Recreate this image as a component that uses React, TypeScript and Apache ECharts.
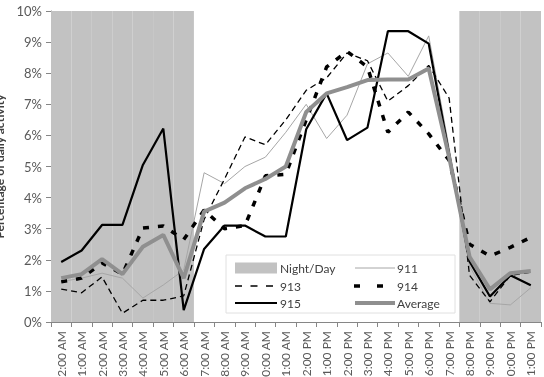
import React, { useEffect, useRef } from "react";
import * as echarts from "echarts";

const categories = [
  "12:00 AM", "1:00 AM", "2:00 AM", "3:00 AM", "4:00 AM", "5:00 AM", "6:00 AM", "7:00 AM",
  "8:00 AM", "9:00 AM", "10:00 AM", "11:00 AM", "12:00 PM", "1:00 PM", "2:00 PM", "3:00 PM",
  "4:00 PM", "5:00 PM", "6:00 PM", "7:00 PM", "8:00 PM", "9:00 PM", "10:00 PM", "11:00 PM",
];

const nightDay = [10, 10, 10, 10, 10, 10, 10, null, null, null, null, null, null, null, null, null, null, null, null, null, 10, 10, 10, 10];
const s911 = [1.3, 1.41, 1.57, 1.41, 0.77, 1.19, 1.67, 4.8, 4.45, 5.0, 5.3, 6.1, 7.0, 5.9, 6.65, 8.3, 8.65, 7.9, 9.2, 5.6, 1.8, 0.6, 0.55, 1.1];
const s913 = [1.06, 0.94, 1.45, 0.28, 0.7, 0.7, 0.84, 3.3, 4.6, 5.95, 5.7, 6.5, 7.45, 7.85, 8.65, 8.4, 7.1, 7.6, 8.25, 7.2, 1.5, 0.65, 1.5, 1.6];
const s914 = [1.29, 1.41, 1.9, 1.54, 3.02, 3.09, 2.65, 3.6, 3.0, 3.1, 4.7, 4.75, 6.5, 8.2, 8.7, 8.2, 6.1, 6.75, 6.05, 5.2, 2.5, 2.12, 2.4, 2.72];
const s915 = [1.93, 2.3, 3.12, 3.12, 5.05, 6.22, 0.38, 2.35, 3.1, 3.1, 2.75, 2.75, 6.2, 7.35, 5.85, 6.25, 9.35, 9.35, 8.95, 5.4, 1.95, 0.82, 1.5, 1.18];
const sAvg = [1.41, 1.54, 2.02, 1.54, 2.42, 2.8, 1.41, 3.55, 3.84, 4.3, 4.6, 5.0, 6.75, 7.35, 7.55, 7.78, 7.8, 7.8, 8.15, 5.3, 2.1, 1.05, 1.57, 1.64];

const FONT = "Lato";
const GRAY_FILL = "#c2c2c2";
const C911 = "#a6a6a6";
const CAVG = "#8f8f8f";

export default function App() {
  const ref = useRef<HTMLDivElement>(null);
  useEffect(() => {
    if (!ref.current) return;
    const chart = echarts.init(ref.current, undefined, { renderer: "svg" });
    const legendText = (x: number, y: number, t: string) => ({
      type: "text", z: 101, x, y,
      style: { text: t, fontSize: 12, fontFamily: FONT, fill: "#404040", verticalAlign: "middle", align: "left" },
    });
    const legendLine = (x1: number, x2: number, y: number, stroke: string, w: number, dash?: number[]) => ({
      type: "line", z: 101,
      shape: { x1, y1: y, x2, y2: y },
      style: { stroke, lineWidth: w, lineDash: dash, lineCap: "butt" },
    });
    const option: any = {
      animation: false,
      grid: { left: 51, right: 3, top: 11, bottom: 55, containLabel: false, outerBoundsMode: "none" },
      xAxis: {
        type: "category",
        data: categories,
        boundaryGap: true,
        axisLine: { lineStyle: { color: "#868686" } },
        axisTick: { show: true, length: 5, lineStyle: { color: "#868686" } },
        axisLabel: { rotate: 90, fontSize: 12, color: "#595959", margin: 9, fontFamily: FONT, interval: 0 },
      },
      yAxis: {
        type: "value",
        min: 0,
        max: 10,
        interval: 1,
        name: "Percentage of daily activity",
        nameLocation: "middle",
        nameGap: 42,
        nameTextStyle: { fontWeight: "bold", fontSize: 12, color: "#404040", fontFamily: FONT },
        axisLine: { show: true, lineStyle: { color: "#868686" } },
        axisTick: { show: true, length: 5, lineStyle: { color: "#868686" } },
        splitLine: { show: false },
        axisLabel: { formatter: "{value}%", fontSize: 13, color: "#595959", margin: 9, fontFamily: FONT },
      },
      series: [
        {
          name: "Night/Day", type: "bar", data: nightDay, barWidth: "100%", barGap: "0%",
          itemStyle: { color: GRAY_FILL }, silent: true,
        },
        { name: "911", type: "line", data: s911, symbol: "none", lineStyle: { color: C911, width: 1 } },
        { name: "913", type: "line", data: s913, symbol: "none", lineStyle: { color: "#000", width: 1.3, type: [6, 4] } },
        { name: "914", type: "line", data: s914, symbol: "none", lineStyle: { color: "#000", width: 3.5, type: [6, 9], cap: "butt" } },
        { name: "915", type: "line", data: s915, symbol: "none", lineStyle: { color: "#000", width: 2.2 } },
        { name: "Average", type: "line", data: sAvg, symbol: "none", lineStyle: { color: CAVG, width: 4 } },
      ],
      graphic: [
        { type: "rect", z: 100, shape: { x: 226, y: 255, width: 229, height: 58 }, style: { fill: "#fff", stroke: "#e0e0e0", lineWidth: 1 } },
        { type: "rect", z: 101, shape: { x: 235, y: 262.5, width: 42, height: 11 }, style: { fill: GRAY_FILL } },
        legendText(280, 268, "Night/Day"),
        legendLine(355, 395, 268, C911, 1),
        legendText(397, 268, "911"),
        legendLine(235, 277, 286, "#000", 1.3, [7, 8.5]),
        legendText(280, 286, "913"),
        legendLine(354, 360, 286, "#000", 3.5),
        legendLine(377, 383, 286, "#000", 3.5),
        legendText(397, 286, "914"),
        legendLine(235, 277, 303, "#000", 2.2),
        legendText(280, 303, "915"),
        legendLine(355, 395, 303, CAVG, 4),
        legendText(397, 303, "Average"),
      ],
    };
    chart.setOption(option);
    return () => chart.dispose();
  }, []);
  return <div ref={ref} style={{ position: "fixed", left: 0, top: 0, width: 544, height: 377 }} />;
}
